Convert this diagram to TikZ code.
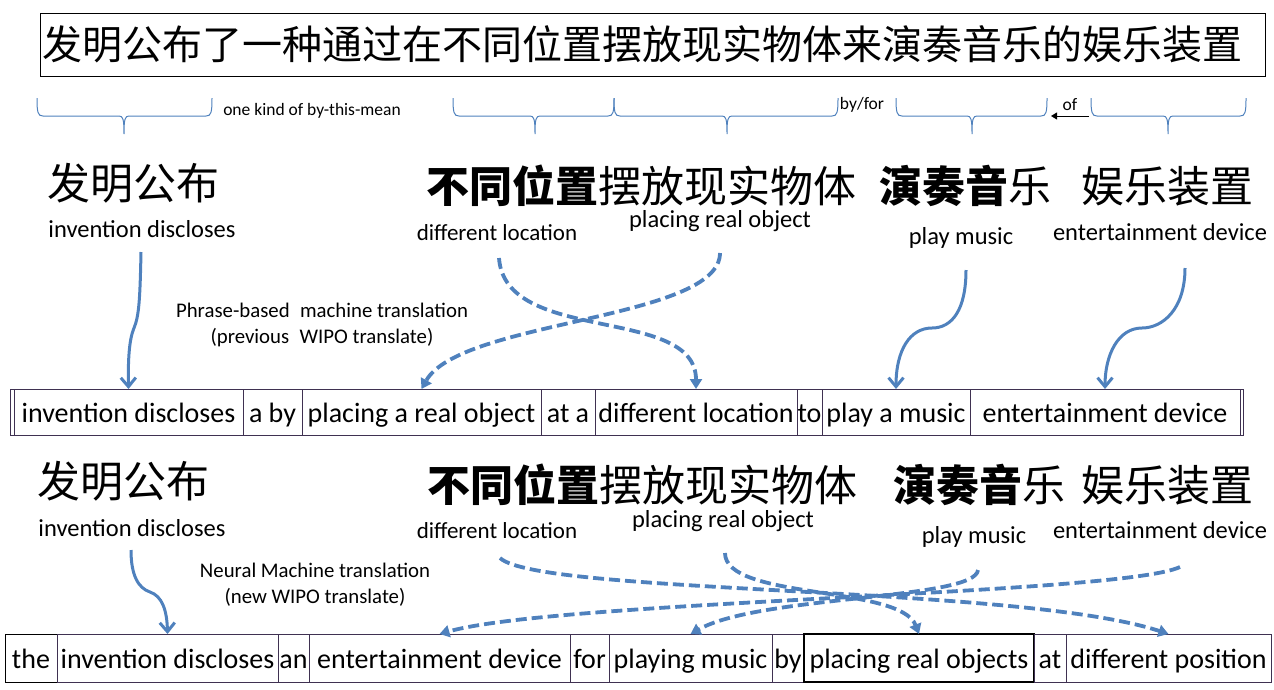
\documentclass[tikz,border=0pt]{standalone}
\usepackage{fontspec}
\setmainfont{Carlito}
\newfontfamily\cjk{Noto Sans CJK SC}
\usetikzlibrary{arrows.meta,positioning}
\definecolor{arrowblue}{RGB}{79,129,189}
\definecolor{cellline}{RGB}{63,49,81}

\begin{document}
\begin{tikzpicture}[x=1pt,y=1pt,yscale=-1,
  titlebox/.style={draw=black,line width=1pt,minimum width=1225pt,minimum height=63pt,text width=1221pt,inner xsep=2pt,align=left,font=\cjk\fontsize{40}{40}\selectfont},
  zh/.style={inner sep=0pt,font=\cjk\fontsize{43}{43}\selectfont},
  en/.style={inner sep=0pt,text height=16pt,text depth=5pt,font=\fontsize{24.5}{24.5}\selectfont},
  note/.style={inner sep=0pt,align=center,font=\fontsize{20.8}{26}\selectfont},
  small/.style={inner sep=0pt,font=\fontsize{17.5}{17.5}\selectfont},
  cell/.style={draw=cellline,line width=1pt,minimum height=46pt,inner sep=0pt,outer sep=0pt,text height=23pt,text depth=2pt,font=\fontsize{28}{28}\selectfont},
  brace/.style={draw=arrowblue,line width=1pt},
  solidarrow/.style={draw=arrowblue,line width=3pt,-{Straight Barb[length=9pt,width=15pt]}},
  dasharrow/.style={draw=arrowblue,line width=3.8pt,dash pattern=on 11pt off 5pt,-{Triangle[length=10pt,width=12pt]}},
  ofarrow/.style={draw=black,line width=1pt,-{Triangle[length=6pt,width=7pt]}}]
\path[use as bounding box] (0,0) rectangle (1274,689);

% Title
\node[titlebox] (title) at (653.4,44.5) {发明公布了一种通过在不同位置摆放现实物体来演奏音乐的娱乐装置};

% Braces
\draw[brace] (37,98) .. controls (37,113) and (38,116) .. (43,116) -- (119,116) .. controls (123,116) and (124,119) .. (124,134) .. controls (124,119) and (125,116) .. (129,116) -- (206,116) .. controls (211,116) and (212,113) .. (212,98);
\draw[brace] (453,98) .. controls (453,113) and (454,116) .. (459,116) -- (530,116) .. controls (534,116) and (535,119) .. (535,134) .. controls (535,119) and (536,116) .. (540,116) -- (608,116) .. controls (613,116) and (614,113) .. (614,98);
\draw[brace] (614,98) .. controls (614,113) and (615,116) .. (620,116) -- (722,116) .. controls (726,116) and (727,119) .. (727,134) .. controls (727,119) and (728,116) .. (732,116) -- (832,116) .. controls (837,116) and (838,113) .. (838,98);
\draw[brace] (896,98) .. controls (896,113) and (897,116) .. (902,116) -- (967,116) .. controls (971,116) and (972,119) .. (972,134) .. controls (972,119) and (973,116) .. (977,116) -- (1041,116) .. controls (1046,116) and (1047,113) .. (1047,98);
\draw[brace] (1091,98) .. controls (1091,113) and (1092,116) .. (1097,116) -- (1163,116) .. controls (1167,116) and (1168,119) .. (1168,134) .. controls (1168,119) and (1169,116) .. (1173,116) -- (1240,116) .. controls (1245,116) and (1246,113) .. (1246,98);

% Brace labels
\node[small] (mean) at (312,111) {one kind of by-this-mean};
\node[small] (byfor) at (862,105) {by/for};
\node[small] (of) at (1070,105) {of};
\coordinate (ofstart) at (1089,116);
\coordinate (ofend) at (1051,116);
\draw[ofarrow] (ofstart) -- (ofend);

% Phrase-based part
\node[zh] (zh1a) at (133,183) {发明公布};
\node[zh] (zh1b) at (641.5,186) {{\bfseries 不同位置}摆放现实物体};
\node[zh] (zh1c) at (965,186) {{\bfseries 演奏音}乐};
\node[zh] (zh1d) at (1167.5,186) {娱乐装置};
\node[en] (en1a) at (142,232) {invention discloses};
\node[en, font=\fontsize{23}{23}\selectfont] (en1b) at (497,235) {different location};
\node[en] (en1c) at (720,222) {placing real object};
\node[en] (en1d) at (961,239) {play music};
\node[en] (en1e) at (1160,235) {entertainment device};
\node[note] (pbmt) at (322,325) {Phrase-based\enspace machine translation\\(previous\enspace WIPO translate)};

\node[cell, minimum width=229pt, anchor=west] (r1a) at (14,412) {invention discloses};
\node[cell, minimum width=59pt, right=0pt of r1a] (r1b) {a by};
\node[cell, minimum width=239pt, right=0pt of r1b] (r1c) {placing a real object};
\node[cell, minimum width=54pt, right=0pt of r1c] (r1d) {at a};
\node[cell, minimum width=202pt, right=0pt of r1d] (r1e) {different location};
\node[cell, minimum width=25pt, right=0pt of r1e] (r1f) {to};
\node[cell, minimum width=148pt, right=0pt of r1f] (r1g) {play a music};
\node[cell, minimum width=270pt, right=0pt of r1g] (r1h) {entertainment device};
\draw[draw=cellline,line width=1pt] (10,389) rectangle (1243,435);

\coordinate (s1a) at (141,252);
\coordinate (s1b) at (499,258);
\coordinate (s1c) at (720,253);
\coordinate (s1d) at (966,270);
\coordinate (s1e) at (1185,268);
\draw[solidarrow] (s1a) .. controls (140,300) and (139,316) .. (134,328) .. controls (129,340) and (128,360) .. (r1a.north);
\draw[dasharrow] (s1b) .. controls (505,345) and (696,305) .. (r1e.north);
\draw[dasharrow] (s1c) .. controls (720,320) and (460,320) .. (r1c.north);
\draw[solidarrow] (s1d) .. controls (966,310) and (952,328) .. (932,328) .. controls (910,328) and (896,350) .. (r1g.north);
\draw[solidarrow] (s1e) .. controls (1185,310) and (1162,328) .. (1142,328) .. controls (1118,328) and (1105,355) .. (r1h.north);

% Neural part
\node[zh] (zh2a) at (123,481) {发明公布};
\node[zh] (zh2b) at (642.5,485) {{\bfseries 不同位置}摆放现实物体};
\node[zh] (zh2c) at (979,485) {{\bfseries 演奏音}乐};
\node[zh] (zh2d) at (1167.5,485) {娱乐装置};
\node[en] (en2a) at (132,531) {invention discloses};
\node[en, font=\fontsize{23}{23}\selectfont] (en2b) at (497,533) {different location};
\node[en] (en2c) at (723,522) {placing real object};
\node[en] (en2d) at (974,538) {play music};
\node[en] (en2e) at (1160,533) {entertainment device};
\node[note] (nmt) at (315,585) {Neural Machine translation\\(new WIPO translate)};

\node[cell, minimum width=52pt, minimum height=48pt, draw=black, anchor=west] (r2a) at (5,658) {the};
\node[cell, minimum width=221pt, minimum height=48pt, right=0pt of r2a] (r2b) {invention discloses};
\node[cell, minimum width=31pt, minimum height=48pt, right=0pt of r2b] (r2c) {an};
\node[cell, minimum width=261pt, minimum height=48pt, right=0pt of r2c] (r2d) {entertainment device};
\node[cell, minimum width=39pt, minimum height=48pt, right=0pt of r2d] (r2e) {for};
\node[cell, minimum width=163pt, minimum height=48pt, right=0pt of r2e] (r2f) {playing music};
\node[cell, minimum width=32pt, minimum height=48pt, right=0pt of r2f] (r2g) {by};
\node[cell, minimum width=230pt, minimum height=48pt, draw=black, line width=1.3pt, right=0pt of r2g] (r2h) {placing real objects};
\node[cell, minimum width=32pt, minimum height=48pt, right=0pt of r2h] (r2i) {at};
\node[cell, minimum width=205pt, minimum height=48pt, right=0pt of r2i] (r2j) {different position};

\coordinate (s2a) at (131,550);
\coordinate (s2b) at (500,558);
\coordinate (s2c) at (725,553);
\coordinate (s2d) at (978,570);
\coordinate (s2e) at (1180,567);
\draw[solidarrow] (s2a) .. controls (131,575) and (138,588) .. (150,592) .. controls (162,596) and (167,610) .. (r2b.north);
\draw[dasharrow] (s2b) .. controls (540,595) and (1020,585) .. (r2j.north);
\draw[dasharrow] (s2c) .. controls (725,600) and (900,585) .. (r2h.north);
\draw[dasharrow] (s2d) .. controls (975,600) and (760,595) .. (r2f.north);
\draw[dasharrow] (s2e) .. controls (1120,595) and (560,600) .. (r2d.north);

\end{tikzpicture}
\end{document}
